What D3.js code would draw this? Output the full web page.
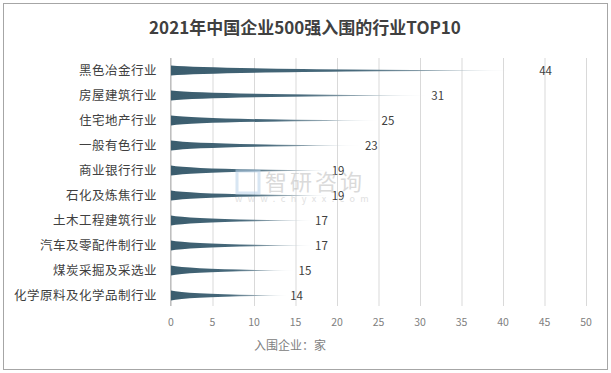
<!DOCTYPE html>
<html>
<head>
<meta charset="UTF-8">
<title></title>
<style>
  body { margin: 0; background: #fff; }
  text { font-family: "Noto Sans CJK SC", "Noto Sans", sans-serif; }
</style>
</head>
<body>
<div id="chart"></div>
<script src="https://cdn.jsdelivr.net/npm/d3@7/dist/d3.min.js"></script>
<script>
// 数据
var categories = ["黑色冶金行业", "房屋建筑行业", "住宅地产行业", "一般有色行业", "商业银行行业",
                  "石化及炼焦行业", "土木工程建筑行业", "汽车及零配件制行业", "煤炭采掘及采选业", "化学原料及化学品制行业"];
var values = [44, 31, 25, 23, 19, 19, 17, 17, 15, 14];
var ticks = [0, 5, 10, 15, 20, 25, 30, 35, 40, 45, 50];

var W = 611, H = 373;
var svg = d3.select("#chart").append("svg").attr("width", W).attr("height", H);

// 外框
svg.append("rect").attr("x", 3.5).attr("y", 3.5).attr("width", 604).attr("height", 366)
    .attr("fill", "#fff").attr("stroke", "#a6a6a6");

var x = d3.scaleLinear().domain([0, 50]).range([171, 586]);
var y = d3.scaleBand().domain(categories).range([58, 308]);

// 网格线
svg.append("g").selectAll("line").data(ticks).enter().append("line")
    .attr("x1", function(d){ return x(d) + 0.5; }).attr("x2", function(d){ return x(d) + 0.5; })
    .attr("y1", 58).attr("y2", 306)
    .attr("stroke", "#d9d9d9");

// 左轴线
svg.append("line").attr("x1", 170.5).attr("x2", 170.5).attr("y1", 58).attr("y2", 306)
    .attr("stroke", "#bfbfbf");

// 渐变
var defs = svg.append("defs");
var grad = defs.append("linearGradient").attr("id", "fade")
    .attr("x1", "0%").attr("x2", "100%").attr("y1", "0%").attr("y2", "0%");
grad.append("stop").attr("offset", "0%").attr("stop-color", "#3b5d6e");
grad.append("stop").attr("offset", "50%").attr("stop-color", "#47697b");
grad.append("stop").attr("offset", "100%").attr("stop-color", "#f2f5f7");

// 锥形条
svg.append("g").selectAll("path").data(values).enter().append("path")
    .attr("fill", "url(#fade)")
    .attr("d", function(d, i){
        var cy = y(categories[i]) + y.bandwidth() / 2;
        var x0 = x(0), x1 = x(d), h = 5;
        return "M" + x0 + "," + (cy - h) +
               "Q" + (x0 + (x1 - x0) * 0.15) + "," + (cy - 1) + " " + x1 + "," + cy +
               "Q" + (x0 + (x1 - x0) * 0.15) + "," + (cy + 1) + " " + x0 + "," + (cy + h) + "Z";
    });

// 数值标签
svg.append("g").selectAll("text").data(values).enter().append("text")
    .attr("x", function(d){ return x(d) + 3; })
    .attr("y", function(d, i){ return y(categories[i]) + y.bandwidth() / 2 + 4; })
    .attr("font-size", 11.5).attr("fill", "#404040")
    .text(function(d){ return d; });

// 类别标签
svg.append("g").selectAll("text").data(categories).enter().append("text")
    .attr("x", 157)
    .attr("y", function(d){ return y(d) + y.bandwidth() / 2 + 4.5; })
    .attr("text-anchor", "end").attr("font-size", 12.5).attr("letter-spacing", 0.5).attr("fill", "#404040")
    .text(function(d){ return d; });

// x轴刻度
svg.append("g").selectAll("text").data(ticks).enter().append("text")
    .attr("x", function(d){ return x(d); }).attr("y", 326)
    .attr("text-anchor", "middle").attr("font-size", 10.5).attr("fill", "#808080")
    .text(function(d){ return d; });

// 轴标题
svg.append("text").attr("x", 290).attr("y", 350).attr("text-anchor", "middle")
    .attr("font-size", 12).attr("fill", "#808080").text("入围企业：家");

// 标题
svg.append("text").attr("x", 305).attr("y", 34).attr("text-anchor", "middle")
    .attr("font-size", 17).attr("font-weight", "bold").attr("fill", "#404040")
    .text("2021年中国企业500强入围的行业TOP10");

// 水印
var wm = svg.append("g").attr("opacity", 0.55);
wm.append("text").attr("x", 265).attr("y", 190).attr("font-size", 22).attr("fill", "#bdbdbd")
    .attr("letter-spacing", 3).text("智研咨询");
wm.append("text").attr("x", 235).attr("y", 202).attr("font-size", 9).attr("fill", "#c8c8c8")
    .attr("letter-spacing", 5.5).text("www.chyxx.com");
wm.append("rect").attr("x", 237).attr("y", 171).attr("width", 22).attr("height", 22)
    .attr("fill", "none").attr("stroke", "#b9d3ea").attr("stroke-width", 3);
</script>
</body>
</html>
